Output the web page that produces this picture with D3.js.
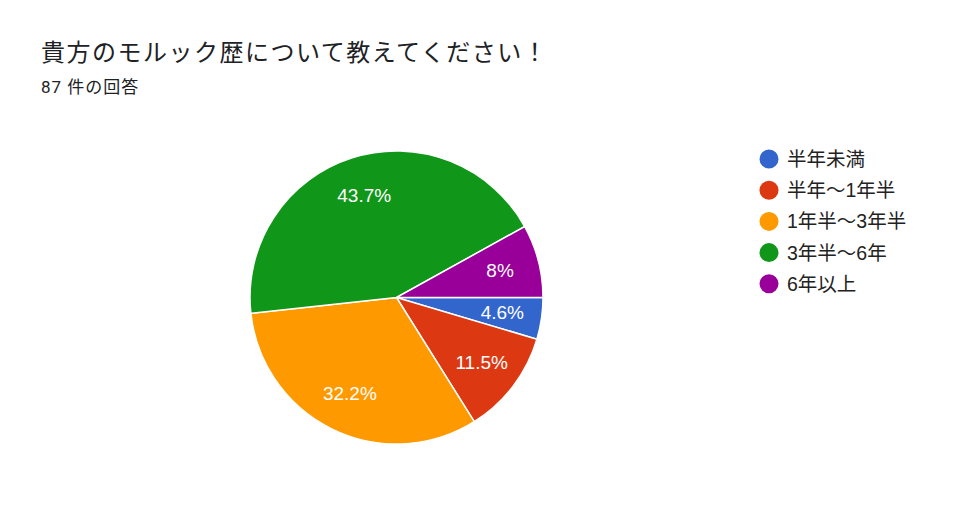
<!DOCTYPE html>
<html>
<head>
<meta charset="utf-8">
<script src="https://cdn.jsdelivr.net/npm/d3@7"></script>
<style>
  body { margin: 0; background: #fff; }
  svg { display: block; }
</style>
</head>
<body>
<div id="chart"></div>
<script>
// answers of the form (87 in total)
let categories = ["半年未満", "半年〜1年半", "1年半〜3年半", "3年半〜6年", "6年以上"];
let counts = [4, 10, 28, 38, 7];
let colors = ["#3366cc", "#dc3912", "#ff9900", "#109618", "#990099"];

let title = "貴方のモルック歴について教えてください！";
let subtitle = "87 件の回答";

let width = 976, height = 522;
let cx = 396.5, cy = 297.5, radius = 146.5;

let svg = d3.select("#chart").append("svg")
    .attr("width", width)
    .attr("height", height);

//title and count
svg.append("text")
    .attr("x", 41).attr("y", 61)
    .style("font-family", "Roboto, 'Noto Sans CJK JP', sans-serif")
    .style("font-size", "24px")
    .style("letter-spacing", "1.5px")
    .style("fill", "#202124")
    .text(title);
svg.append("text")
    .attr("x", 41).attr("y", 93)
    .style("font-family", "Roboto, 'Noto Sans CJK JP', sans-serif")
    .style("font-size", "17px")
    .style("letter-spacing", "1px")
    .style("fill", "#202124")
    .text(subtitle);

let total = d3.sum(counts);
let rows = categories.map((c, i) => ({ name: c, value: counts[i], color: colors[i] }));

//pie starts at 3 o'clock and goes clockwise, no sorting
let pie = d3.pie()
    .value(d => d.value)
    .sort(null)
    .startAngle(Math.PI / 2)
    .endAngle(Math.PI / 2 + 2 * Math.PI);

let arc = d3.arc().innerRadius(0).outerRadius(radius);
let labelArc = d3.arc().innerRadius(radius * 0.73).outerRadius(radius * 0.73);

let g = svg.append("g").attr("transform", `translate(${cx},${cy})`);

g.selectAll("path")
    .data(pie(rows)).enter()
    .append("path")
    .attr("d", arc)
    .style("fill", d => d.data.color)
    .style("stroke", "#fff")
    .style("stroke-width", 1.5);

let fmt = v => {
    let p = Math.round(v / total * 1000) / 10;
    return p + "%";
};

g.selectAll("text.lbl")
    .data(pie(rows)).enter()
    .append("text")
    .attr("class", "lbl")
    .attr("transform", d => `translate(${labelArc.centroid(d)})`)
    .attr("text-anchor", "middle")
    .attr("dominant-baseline", "central")
    .style("font-family", "Arial, 'Liberation Sans', sans-serif")
    .style("font-size", "19px")
    .style("fill", "#fff")
    .text(d => fmt(d.data.value));

//legend
let legend = svg.append("g").attr("transform", "translate(769,159)");
let legendRows = legend.selectAll("g")
    .data(rows).enter()
    .append("g")
    .attr("transform", (d, i) => `translate(0,${i * 31.2})`);
legendRows.append("circle")
    .attr("r", 9.5)
    .style("fill", d => d.color);
legendRows.append("text")
    .attr("x", 18)
    .attr("dominant-baseline", "central")
    .style("font-family", "Arial, 'Liberation Sans', 'Noto Sans CJK JP', sans-serif")
    .style("font-size", "19.5px")
    .style("fill", "#222")
    .text(d => d.name);
</script>
</body>
</html>
